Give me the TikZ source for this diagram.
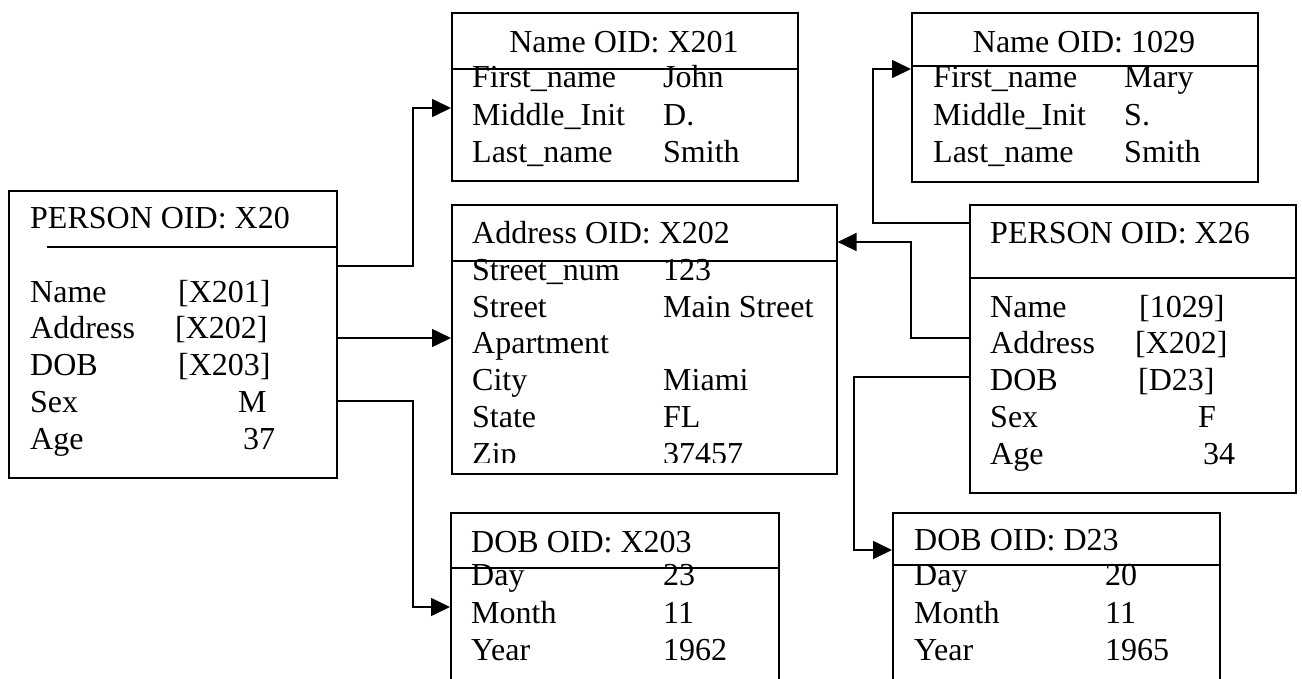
\documentclass[tikz,border=0pt]{standalone}
\usepackage{fontspec}
\setmainfont{Liberation Serif}
\usetikzlibrary{arrows.meta}
\begin{document}
\begin{tikzpicture}[x=1pt,y=-1pt,
  box/.style={draw, line width=1.6pt, inner sep=0pt, anchor=north west},
  rule/.style={line width=1.6pt},
  txt/.style={anchor=base west, inner sep=0pt, font=\fontsize{32}{38}\selectfont},
  ctitle/.style={txt, anchor=base},
  link/.style={line width=1.6pt, -{Triangle[length=19pt,width=18pt]}}]
\useasboundingbox (0,0) rectangle (1302,678);
\clip (0,0) rectangle (1302,678);

% object boxes
\node[box, minimum width=328pt, minimum height=287pt] (p1) at (8,190) {};
\node[box, minimum width=346pt, minimum height=168pt] (n1) at (451,12) {};
\node[box, minimum width=385pt, minimum height=269pt] (a1) at (451,204) {};
\node[box, minimum width=346pt, minimum height=169pt] (n2) at (911,12) {};
\node[box, minimum width=326pt, minimum height=288pt] (p2) at (969,204) {};
\node[box, minimum width=328pt, minimum height=220pt] (d1) at (450,512) {};
\node[box, minimum width=327pt, minimum height=220pt] (d2) at (892,512) {};

% header separators
\draw[rule] (47,247) -- (p1.east |- 0,247);
\draw[rule] (n1.west |- 0,69) -- (n1.east |- 0,69);
\draw[rule] (a1.west |- 0,261) -- (a1.east |- 0,261);
\draw[rule] (n2.west |- 0,66) -- (n2.east |- 0,66);
\draw[rule] (p2.west |- 0,278) -- (p2.east |- 0,278);
\draw[rule] (d1.west |- 0,568) -- (d1.east |- 0,568);
\draw[rule] (d2.west |- 0,565) -- (d2.east |- 0,565);

% PERSON X20
\node[txt] (p1t) at (30,228) {PERSON OID: X20};
\foreach \l/\v/\vx/\y [count=\i] in
  {Name/{[X201]}/178/302, Address/{[X202]}/175/338, DOB/{[X203]}/178/375,
   Sex/M/238/412, Age/37/243/449}{
  \node[txt] (p1l\i) at (30,\y) {\l};
  \node[txt] (p1v\i) at (\vx,\y) {\v};
}

% Name X201
\node[ctitle] (n1t) at (624,52) {Name OID: X201};
\foreach \l/\v/\y [count=\i] in
  {First\_name/John/87, Middle\_Init/D./125, Last\_name/Smith/162}{
  \node[txt] (n1l\i) at (472,\y) {\l};
  \node[txt] (n1v\i) at (663,\y) {\v};
}

% Address X202
\node[txt] (a1t) at (472,243) {Address OID: X202};
\foreach \l/\v/\y [count=\i] in
  {Street\_num/123/280, Street/Main Street/317, Apartment/{}/353,
   City/Miami/390, State/FL/427}{
  \node[txt] (a1l\i) at (472,\y) {\l};
  \node[txt] (a1v\i) at (663,\y) {\v};
}
\begin{scope}
  \clip (451,204) rectangle (836,462);
  \node[txt] (a1l6) at (472,464) {Zip};
  \node[txt] (a1v6) at (663,464) {37457};
\end{scope}

% Name 1029
\node[ctitle] (n2t) at (1084,52) {Name OID: 1029};
\foreach \l/\v/\y [count=\i] in
  {First\_name/Mary/87, Middle\_Init/S./125, Last\_name/Smith/162}{
  \node[txt] (n2l\i) at (933,\y) {\l};
  \node[txt] (n2v\i) at (1124,\y) {\v};
}

% PERSON X26
\node[txt] (p2t) at (990,243) {PERSON OID: X26};
\foreach \l/\v/\vx/\y [count=\i] in
  {Name/{[1029]}/1139/317, Address/{[X202]}/1135/353, DOB/{[D23]}/1138/390,
   Sex/F/1198/427, Age/34/1203/464}{
  \node[txt] (p2l\i) at (990,\y) {\l};
  \node[txt] (p2v\i) at (\vx,\y) {\v};
}

% DOB X203
\node[txt] (d1t) at (471,552) {DOB OID: X203};
\foreach \l/\v/\y [count=\i] in {Day/23/585, Month/11/623, Year/1962/660}{
  \node[txt] (d1l\i) at (471,\y) {\l};
  \node[txt] (d1v\i) at (663,\y) {\v};
}

% DOB D23
\node[txt] (d2t) at (914,550) {DOB OID: D23};
\foreach \l/\v/\y [count=\i] in {Day/20/585, Month/11/623, Year/1965/660}{
  \node[txt] (d2l\i) at (914,\y) {\l};
  \node[txt] (d2v\i) at (1105,\y) {\v};
}

% references between objects
\draw[link] (p1.east |- 0,266) -- (413,266) |- (n1.west |- 0,108);
\draw[link] (p1.east |- 0,338) -- (a1.west |- 0,338);
\draw[link] (p1.east |- 0,401) -- (413,401) |- (d1.west |- 0,607);
\draw[link] (p2.west |- 0,338) -- (911,338) |- (a1.east |- 0,242);
\draw[link] (p2.west |- 0,223) -- (873,223) |- (n2.west |- 0,69);
\draw[link] (p2.west |- 0,377) -- (854,377) |- (d2.west |- 0,550);
\end{tikzpicture}
\end{document}
